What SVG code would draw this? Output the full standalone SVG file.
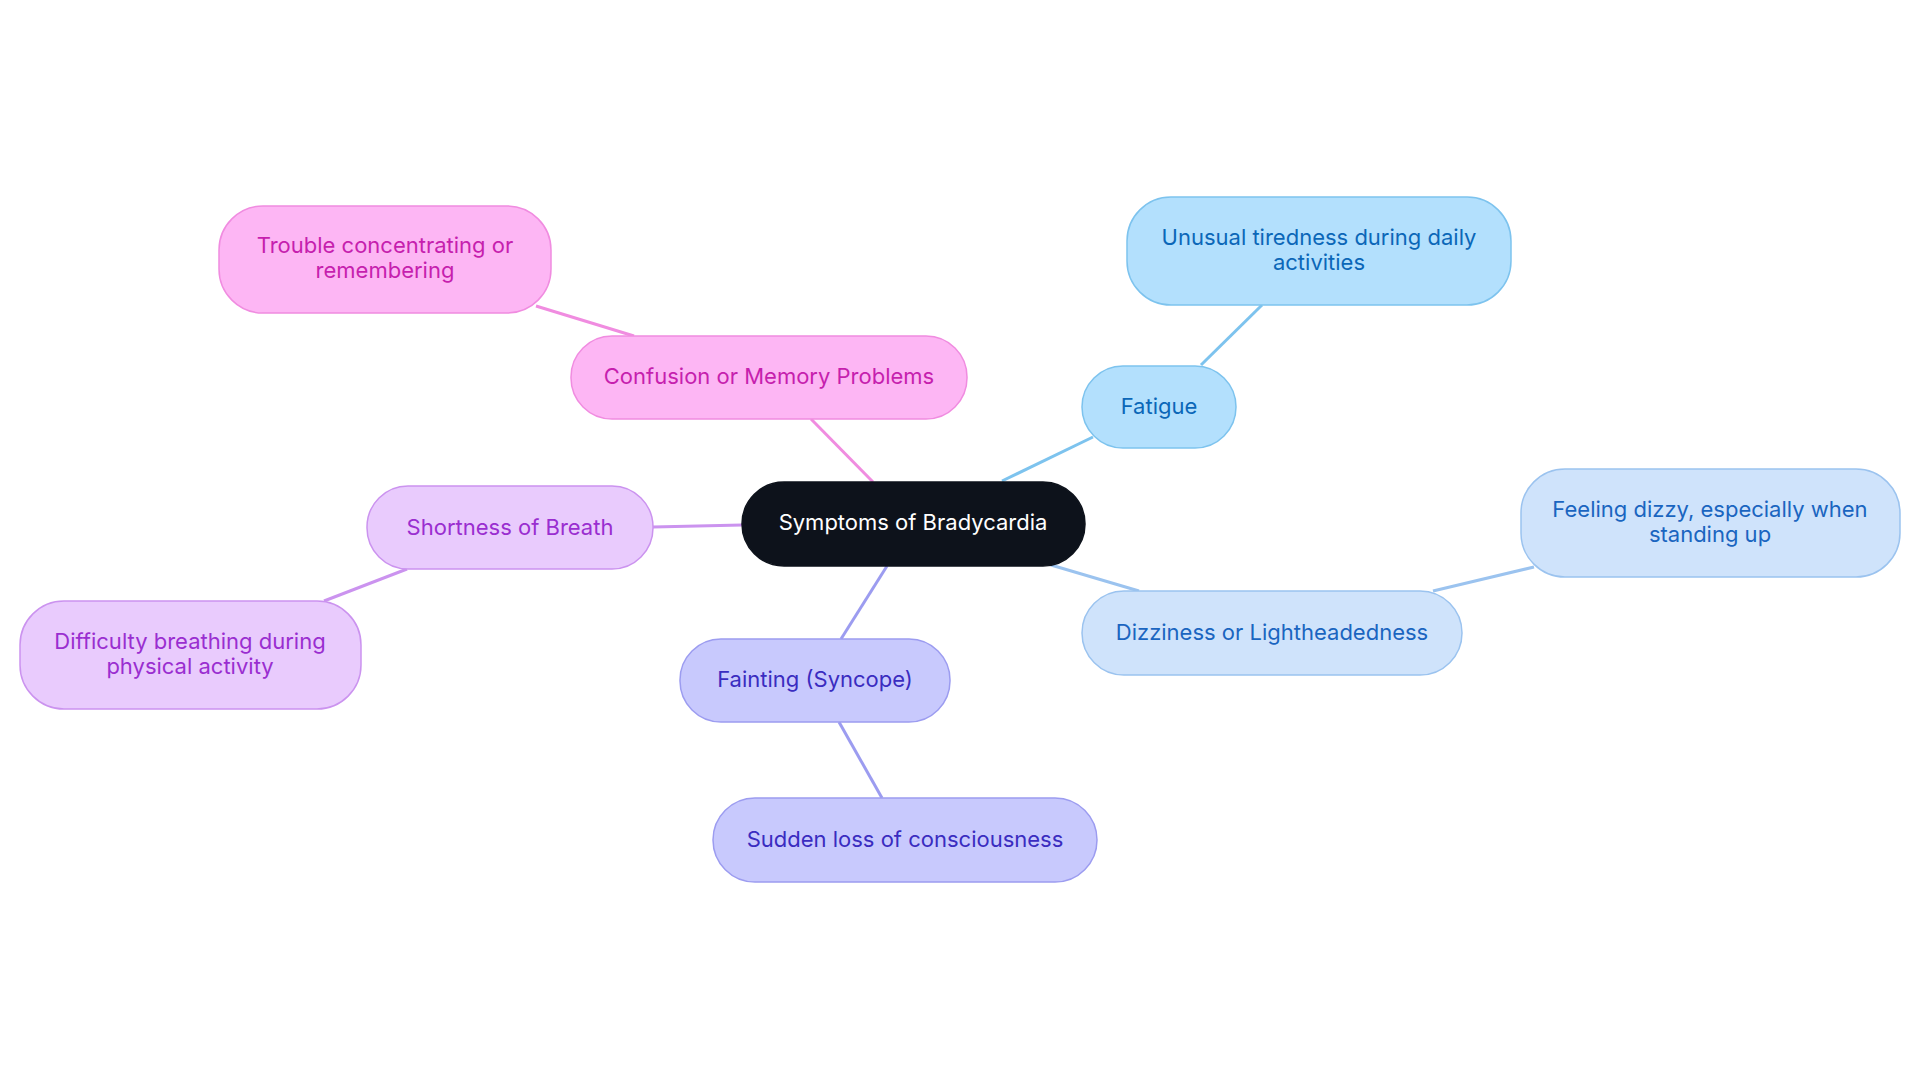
<svg xmlns="http://www.w3.org/2000/svg" width="1920" height="1083" viewBox="0 0 1920 1083">
<style>
text{font-family:Inter,"Noto Sans",sans-serif;font-size:22px;text-anchor:middle;dominant-baseline:central}
.e{stroke-width:3;fill:none}
.b rect{fill:#b3e0fd;stroke:#7dc3ee}.b text{fill:#0b67b8}
.l rect{fill:#cfe3fb;stroke:#9bc3ef}.l text{fill:#1a65c0}
.i rect{fill:#c8c9fd;stroke:#9c9cf0}.i text{fill:#3a2cc0}
.v rect{fill:#e9cbfd;stroke:#cb93ef}.v text{fill:#9a2ed0}
.p rect{fill:#fdb6f4;stroke:#f08ce0}.p text{fill:#c61fae}
rect{stroke-width:1.5}
</style>
<rect width="1920" height="1083" fill="#fff"/>
<g id="connectors">
<line class="e" stroke="#7dc3ee" x1="1002" y1="481" x2="1093" y2="437"/>
<line class="e" stroke="#7dc3ee" x1="1201" y1="365" x2="1262" y2="305"/>
<line class="e" stroke="#9bc3ef" x1="1051" y1="565" x2="1139" y2="591"/>
<line class="e" stroke="#9bc3ef" x1="1433" y1="591" x2="1534" y2="567"/>
<line class="e" stroke="#9c9cf0" x1="887" y1="566" x2="841" y2="639"/>
<line class="e" stroke="#9c9cf0" x1="839" y1="722" x2="882" y2="798"/>
<line class="e" stroke="#cb93ef" x1="742" y1="525" x2="653" y2="527"/>
<line class="e" stroke="#cb93ef" x1="407" y1="569" x2="324" y2="601"/>
<line class="e" stroke="#f08ce0" x1="873" y1="482" x2="811" y2="419"/>
<line class="e" stroke="#f08ce0" x1="634" y1="336" x2="536" y2="306"/>
</g>
<g id="center"><rect x="742" y="482" width="343" height="84" rx="42" fill="#0d121b" stroke="#0d121b"/><text x="913" y="522" fill="#fff">Symptoms of Bradycardia</text></g>
<g id="fatigue" class="b"><rect x="1082" y="366" width="154" height="82" rx="41"/><text x="1159" y="406">Fatigue</text></g>
<g id="tired" class="b"><rect x="1127" y="197" width="384" height="108" rx="44"/><text x="1319" y="237">Unusual tiredness during daily</text><text x="1319" y="262">activities</text></g>
<g id="dizz" class="l"><rect x="1082" y="591" width="380" height="84" rx="42"/><text x="1272" y="632">Dizziness or Lightheadedness</text></g>
<g id="feel" class="l"><rect x="1521" y="469" width="379" height="108" rx="44"/><text x="1710" y="509">Feeling dizzy, especially when</text><text x="1710" y="534">standing up</text></g>
<g id="faint" class="i"><rect x="680" y="639" width="270" height="83" rx="41"/><text x="815" y="679">Fainting (Syncope)</text></g>
<g id="sudden" class="i"><rect x="713" y="798" width="384" height="84" rx="42"/><text x="905" y="839">Sudden loss of consciousness</text></g>
<g id="short" class="v"><rect x="367" y="486" width="286" height="83" rx="41"/><text x="510" y="527">Shortness of Breath</text></g>
<g id="diff" class="v"><rect x="20" y="601" width="341" height="108" rx="44"/><text x="190" y="641">Difficulty breathing during</text><text x="190" y="666">physical activity</text></g>
<g id="conf" class="p"><rect x="571" y="336" width="396" height="83" rx="41"/><text x="769" y="376">Confusion or Memory Problems</text></g>
<g id="trouble" class="p"><rect x="219" y="206" width="332" height="107" rx="44"/><text x="385" y="245">Trouble concentrating or</text><text x="385" y="270">remembering</text></g>
</svg>
